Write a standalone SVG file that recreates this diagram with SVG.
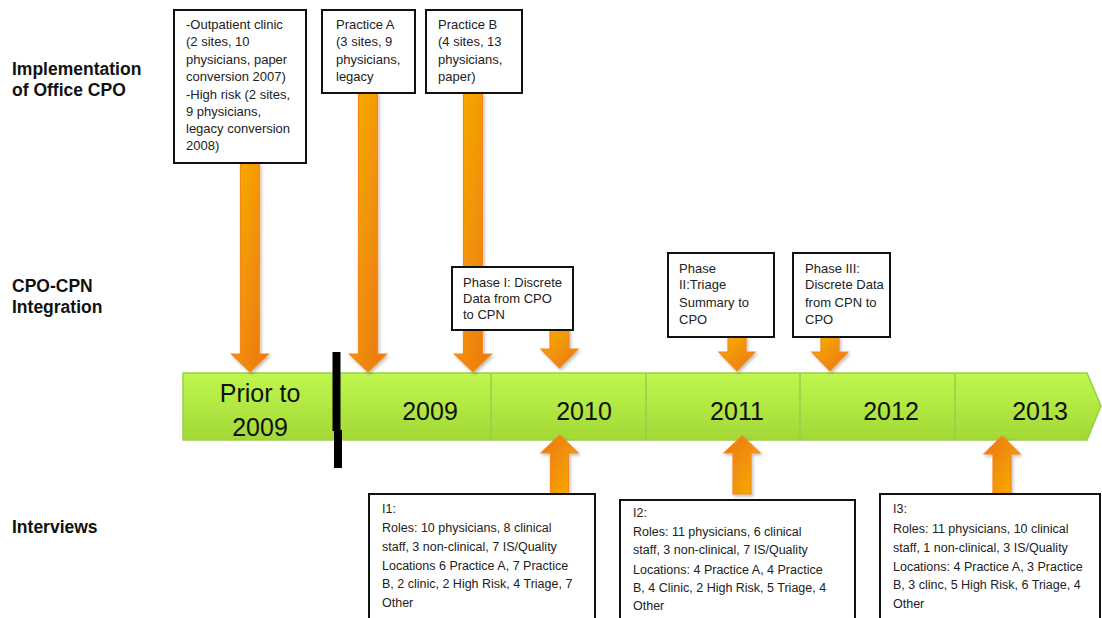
<svg xmlns="http://www.w3.org/2000/svg" width="1102" height="618" viewBox="0 0 1102 618">
<style>
.lbl{font-family:"Liberation Sans",Arial,sans-serif;font-weight:bold;font-size:17.5px;fill:#111}
.bx{fill:#fff;stroke:#111;stroke-width:2}
.t{font-family:"Liberation Sans",Arial,sans-serif;font-size:13px;fill:#222}
.ti{font-family:"Liberation Sans",Arial,sans-serif;font-size:12.5px;fill:#222}
.yr{font-family:"Liberation Sans",Arial,sans-serif;font-size:25px;fill:#111;text-anchor:middle}
.dn{fill:url(#gDown);stroke:#f7861b;stroke-width:1.2;filter:url(#sh)}
.up{fill:url(#gUp);stroke:#f7861b;stroke-width:1.2;filter:url(#sh)}
.div{stroke:#93cf4e;stroke-width:1.5}
</style>
<defs>
<linearGradient id="gDown" x1="0" y1="0" x2="1" y2="1">
<stop offset="0" stop-color="#f8b000"/>
<stop offset="1" stop-color="#ea7410"/>
</linearGradient>
<linearGradient id="gUp" x1="0" y1="0" x2="1" y2="1">
<stop offset="0" stop-color="#ea7410"/>
<stop offset="1" stop-color="#f8b000"/>
</linearGradient>
<linearGradient id="gBar" x1="0" y1="0" x2="0" y2="1">
<stop offset="0" stop-color="#bff74e"/>
<stop offset="1" stop-color="#a3d836"/>
</linearGradient>
<filter id="sh" x="-30%" y="-10%" width="160%" height="130%">
<feDropShadow dx="1.5" dy="2" stdDeviation="1.5" flood-color="#000" flood-opacity="0.25"/>
</filter>
</defs>

<g id="row-labels">
<text class="lbl" x="12" y="75">Implementation</text>
<text class="lbl" x="12" y="96">of Office CPO</text>
<text class="lbl" x="12" y="292">CPO-CPN</text>
<text class="lbl" x="12" y="313">Integration</text>
<text class="lbl" x="12" y="533">Interviews</text>
</g>

<g id="timeline">
<path d="M183,373 H1087 L1101,406 L1087,440 H183 Z" fill="url(#gBar)" stroke="#97d04a" stroke-width="1.5"/>
<line class="div" x1="491" y1="374" x2="491" y2="439"/>
<line class="div" x1="646" y1="374" x2="646" y2="439"/>
<line class="div" x1="800" y1="374" x2="800" y2="439"/>
<line class="div" x1="955" y1="374" x2="955" y2="439"/>
<text class="yr" x="260" y="402">Prior to</text>
<text class="yr" x="260" y="436">2009</text>
<text class="yr" x="430" y="420">2009</text>
<text class="yr" x="584" y="420">2010</text>
<text class="yr" x="737" y="420">2011</text>
<text class="yr" x="891" y="420">2012</text>
<text class="yr" x="1040" y="420">2013</text>
</g>

<g id="divider-mark">
<rect x="332.5" y="352" width="8" height="79" fill="#000"/>
<rect x="334" y="430" width="8" height="38" fill="#000"/>
</g>

<g id="connectors">
<polygon class="dn" points="240.5,164 259.5,164 259.5,354 268.5,354 250,372 231.5,354 240.5,354"/>
<polygon class="dn" points="358.5,93 377.5,93 377.5,354 386.5,354 368,372 349.5,354 358.5,354"/>
<polygon class="dn" points="463.5,93 482.5,93 482.5,354 491.5,354 473,372 454.5,354 463.5,354"/>
<polygon class="dn" points="550,330 569,330 569,349 578,349 559.5,368 541,349 550,349"/>
<polygon class="dn" points="728,337 746,337 746,352 755,352 737,371 719,352 728,352"/>
<polygon class="dn" points="821,337 839,337 839,352 848,352 830,371 812,352 821,352"/>
<polygon class="up" points="559.5,435 578,453 568.5,453 568.5,494 550.5,494 550.5,453 541,453"/>
<polygon class="up" points="742,436 760,453 751,453 751,494 733,494 733,453 724,453"/>
<polygon class="up" points="1002,436 1020,454 1011,454 1011,493 993,493 993,454 984,454"/>
</g>

<g id="box-outpatient">
<rect class="bx" x="174" y="10" width="132" height="153"/>
<text class="t" x="186" y="29">-Outpatient clinic</text>
<text class="t" x="186" y="46">(2 sites, 10</text>
<text class="t" x="186" y="64">physicians, paper</text>
<text class="t" x="186" y="81">conversion 2007)</text>
<text class="t" x="186" y="99">-High risk (2 sites,</text>
<text class="t" x="186" y="116">9 physicians,</text>
<text class="t" x="186" y="133">legacy conversion</text>
<text class="t" x="186" y="150">2008)</text>
</g>

<g id="box-practice-a">
<rect class="bx" x="322" y="10" width="93" height="83"/>
<text class="t" x="336" y="29">Practice A</text>
<text class="t" x="336" y="46">(3 sites, 9</text>
<text class="t" x="336" y="64">physicians,</text>
<text class="t" x="336" y="81">legacy</text>
</g>

<g id="box-practice-b">
<rect class="bx" x="426" y="10" width="96" height="83"/>
<text class="t" x="438" y="29">Practice B</text>
<text class="t" x="438" y="46">(4 sites, 13</text>
<text class="t" x="438" y="64">physicians,</text>
<text class="t" x="438" y="81">paper)</text>
</g>

<g id="box-phase1">
<rect class="bx" x="452" y="267" width="121" height="63"/>
<text class="t" x="463" y="287">Phase I: Discrete</text>
<text class="t" x="463" y="303">Data from CPO</text>
<text class="t" x="463" y="319">to CPN</text>
</g>

<g id="box-phase2">
<rect class="bx" x="668" y="253" width="106" height="84"/>
<text class="t" x="679" y="273">Phase</text>
<text class="t" x="679" y="289">II:Triage</text>
<text class="t" x="679" y="307">Summary to</text>
<text class="t" x="679" y="324">CPO</text>
</g>

<g id="box-phase3">
<rect class="bx" x="793" y="253" width="97" height="84"/>
<text class="t" x="805" y="273">Phase III:</text>
<text class="t" x="805" y="289">Discrete Data</text>
<text class="t" x="805" y="307">from CPN to</text>
<text class="t" x="805" y="324">CPO</text>
</g>

<g id="box-i1">
<rect class="bx" x="369" y="494" width="226" height="130"/>
<text class="ti" x="382" y="513">I1:</text>
<text class="ti" x="382" y="532">Roles: 10 physicians, 8 clinical</text>
<text class="ti" x="382" y="551">staff, 3 non-clinical, 7 IS/Quality</text>
<text class="ti" x="382" y="570">Locations 6 Practice A, 7 Practice</text>
<text class="ti" x="382" y="588">B, 2 clinic, 2 High Risk, 4 Triage, 7</text>
<text class="ti" x="382" y="607">Other</text>
</g>

<g id="box-i2">
<rect class="bx" x="620" y="500" width="235" height="124"/>
<text class="ti" x="633" y="517">I2:</text>
<text class="ti" x="633" y="536">Roles: 11 physicians, 6 clinical</text>
<text class="ti" x="633" y="554">staff, 3 non-clinical, 7 IS/Quality</text>
<text class="ti" x="633" y="574">Locations: 4 Practice A, 4 Practice</text>
<text class="ti" x="633" y="592">B, 4 Clinic, 2 High Risk, 5 Triage, 4</text>
<text class="ti" x="633" y="610">Other</text>
</g>

<g id="box-i3">
<rect class="bx" x="880" y="494" width="220" height="130"/>
<text class="ti" x="893" y="513">I3:</text>
<text class="ti" x="893" y="533">Roles: 11 physicians, 10 clinical</text>
<text class="ti" x="893" y="552">staff, 1 non-clinical, 3 IS/Quality</text>
<text class="ti" x="893" y="571">Locations: 4 Practice A, 3 Practice</text>
<text class="ti" x="893" y="589">B, 3 clinc, 5 High Risk, 6 Triage, 4</text>
<text class="ti" x="893" y="608">Other</text>
</g>
</svg>
